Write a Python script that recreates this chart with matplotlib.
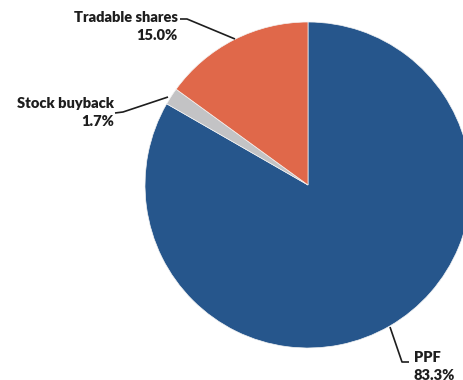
import matplotlib
matplotlib.use("Agg")
import matplotlib.pyplot as plt

# Share structure
labels = ["PPF", "Stock buyback", "Tradable shares"]
shares = [83.3, 1.7, 15.0]
colors = ["#26568C", "#C3C3C5", "#E0684A"]

# label text positions (pixels from top-left), ha, and leader line paths
label_pos = {
    "PPF": (414, 357, "left", [(390, 327), (402, 362), (409, 362)]),
    "Stock buyback": (114, 104, "right", [(115, 113), (123, 112), (168, 97)]),
    "Tradable shares": (178, 17, "right", [(180, 19), (187, 19), (235, 39)]),
}

W, H = 464, 380
fig = plt.figure(figsize=(W / 100, H / 100), dpi=100)
ax = fig.add_axes([0, 0, 1, 1])

ax.pie(shares, colors=colors, startangle=90, counterclock=False,
       center=(308, H - 185), radius=163,
       wedgeprops=dict(edgecolor="#F4F4F4", linewidth=0.5))
ax.set_xlim(0, W)
ax.set_ylim(0, H)
ax.set_aspect("auto")
ax.axis("off")

plt.rcParams["font.family"] = ["Lato", "DejaVu Sans"]
for name, val in zip(labels, shares):
    x, y, ha, path = label_pos[name]
    ax.text(x, H - y, name, ha=ha, va="center", fontsize=10.5,
            fontweight="heavy", color="#1E1E1E")
    ax.text(x, H - y - 18, f"{val:.1f}%", ha=ha, va="center", fontsize=10.5,
            fontweight="heavy", color="#1E1E1E")
    xs = [p[0] for p in path]
    ys = [H - p[1] for p in path]
    ax.plot(xs, ys, color="#1E1E1E", linewidth=1.2, solid_capstyle="butt")

fig.savefig("out.png", dpi=100)
